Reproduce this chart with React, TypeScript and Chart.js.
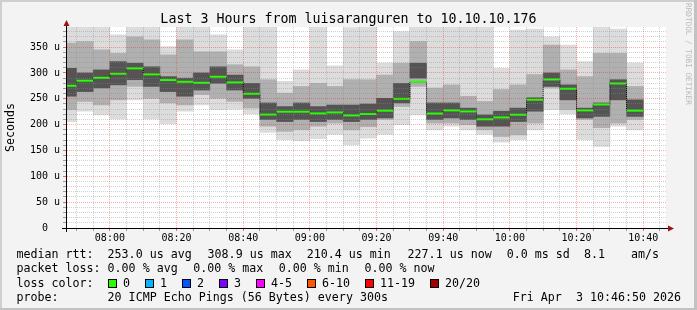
import React, { useEffect, useRef } from "react";
import { Chart, registerables } from "chart.js";

Chart.register(...registerables);

// ---- data (microseconds) ----
const binEnds = [
  "07:50", "07:55", "08:00", "08:05", "08:10", "08:15", "08:20", "08:25", "08:30", "08:35",
  "08:40", "08:45", "08:50", "08:55", "09:00", "09:05", "09:10", "09:15", "09:20", "09:25",
  "09:30", "09:35", "09:40", "09:45", "09:50", "09:55", "10:00", "10:05", "10:10", "10:15",
  "10:20", "10:25", "10:30", "10:35", "10:40",
];
const medianUs = [
  275.2, 285, 290.7, 298.5, 308.9, 297.3, 286.3, 283, 281, 292.7,
  281.8, 259.8, 219.5, 225, 225, 221.8, 223.7, 217.9, 220.5, 227,
  250, 283, 221.5, 227.6, 225.6, 210.4, 214, 219.2, 248.2, 287.4,
  269.5, 227.6, 239.1, 279.7, 227.1,
];
const smokeMin = [
  206, 226, 219, 211, 248, 211, 202, 226, 238, 229,
  230, 221, 185, 171, 169, 173, 181, 161, 174, 181,
  200, 219, 190, 197, 190, 181, 166, 171, 190, 229,
  221, 171, 158, 197, 190,
];
const smokeMax = [
  395, 395, 395, 374, 392, 395, 351, 392, 392, 374,
  345, 392, 392, 284, 306, 392, 314, 388, 392, 319,
  380, 392, 392, 392, 392, 392, 309, 383, 385, 370,
  354, 322, 392, 385, 319,
];
const bandLo = [
  229, 245, 238, 248, 274, 251, 242, 238, 258, 251,
  245, 232, 197, 187, 190, 197, 203, 190, 196, 210,
  235, 274, 203, 203, 200, 190, 177, 180, 203, 271,
  229, 210, 194, 203, 210,
];
const bandHi = [
  358, 361, 345, 338, 370, 364, 335, 364, 341, 341,
  316, 312, 287, 261, 274, 280, 274, 287, 287, 296,
  319, 361, 271, 277, 255, 245, 268, 277, 297, 354,
  306, 293, 338, 338, 274,
];
const coreLo = [
  255, 264, 271, 277, 287, 274, 264, 255, 267, 280,
  267, 251, 210, 206, 210, 206, 210, 206, 210, 213,
  242, 290, 210, 213, 210, 197, 197, 206, 226, 274,
  248, 213, 216, 248, 216,
];
const coreHi = [
  309, 300, 306, 322, 319, 312, 293, 290, 300, 312,
  296, 280, 242, 235, 242, 235, 238, 238, 240, 251,
  280, 319, 242, 242, 232, 219, 226, 232, 252, 300,
  277, 232, 242, 287, 248,
];

const rangeStart = "07:46:50";
const rangeEnd = "10:46:50";
const binMinutes = 5;
const yMax = 389;

const xTickLabels = ["08:00", "08:20", "08:40", "09:00", "09:20", "09:40", "10:00", "10:20", "10:40"];
const yTickValues = [0, 50, 100, 150, 200, 250, 300, 350];
const yTickText = ["0  ", "50 u", "100 u", "150 u", "200 u", "250 u", "300 u", "350 u"];

const lossLabels = ["0", "1", "2", "3", "4-5", "6-10", "11-19", "20/20"];
const lossColors = ["#26ff00", "#00b8ff", "#0059ff", "#7e00ff", "#ff00ff", "#ff5500", "#ff0000", "#a10000"];

const titleText = "Last 3 Hours from luisaranguren to 10.10.10.176";
const rttLine = [
  ["median rtt:", 16.4], ["253.0 us avg", 107.6], ["308.9 us max", 207.6], ["210.4 us min", 306.7],
  ["227.1 us now", 407.6], ["0.0 ms sd", 506.7], ["8.1", 584], ["am/s", 631],
] as [string, number][];
const lossLine = [
  ["packet loss:", 16.4], ["0.00 % avg", 107.6], ["0.00 % max", 193.3], ["0.00 % min", 278.7], ["0.00 % now", 364.4],
] as [string, number][];
const probeText = "20 ICMP Echo Pings (56 Bytes) every 300s";
const stampText = "Fri Apr  3 10:46:50 2026";

const W = 697;
const H = 310;
const MONO = '"DejaVu Sans Mono", monospace';

function toMin(s: string): number {
  const p = s.split(":").map(Number);
  return p[0] * 60 + p[1] + (p[2] || 0) / 60;
}

const decor = {
  id: "decor",
  beforeDraw(chart: any) {
    const { ctx, chartArea: a } = chart;
    ctx.save();
    ctx.fillStyle = "#f3f3f3";
    ctx.fillRect(0, 0, W, H);
    ctx.fillStyle = "#ffffff";
    ctx.fillRect(a.left, a.top, a.right - a.left, a.bottom - a.top);
    ctx.restore();
  },
  afterDraw(chart: any) {
    const { ctx, chartArea: a } = chart;
    ctx.save();
    // axes
    ctx.strokeStyle = "#000";
    ctx.lineWidth = 1;
    ctx.beginPath();
    ctx.moveTo(a.left + 0.5, a.bottom + 4);
    ctx.lineTo(a.left + 0.5, a.top - 4);
    ctx.moveTo(a.left - 4, a.bottom + 0.5);
    ctx.lineTo(a.right + 4, a.bottom + 0.5);
    ctx.stroke();
    // arrows
    ctx.fillStyle = "#9b1414";
    ctx.beginPath();
    ctx.moveTo(a.left + 0.5, a.top - 7);
    ctx.lineTo(a.left - 2.5, a.top - 1);
    ctx.lineTo(a.left + 3.5, a.top - 1);
    ctx.closePath();
    ctx.fill();
    ctx.beginPath();
    ctx.moveTo(a.right + 8, a.bottom + 0.5);
    ctx.lineTo(a.right + 2, a.bottom - 2.5);
    ctx.lineTo(a.right + 2, a.bottom + 3.5);
    ctx.closePath();
    ctx.fill();

    // title
    ctx.fillStyle = "#000";
    ctx.textBaseline = "middle";
    ctx.textAlign = "center";
    ctx.font = `13.3px ${MONO}`;
    ctx.fillText(titleText, W / 2, 19.5);

    // vertical axis title
    ctx.save();
    ctx.translate(10.5, (a.top + a.bottom) / 2);
    ctx.rotate(-Math.PI / 2);
    ctx.font = `11.65px ${MONO}`;
    ctx.fillText("Seconds", 0, 0);
    ctx.restore();

    // legend
    ctx.font = `11.65px ${MONO}`;
    ctx.textAlign = "left";
    for (const [t, x] of rttLine) ctx.fillText(t, x, 254.5);
    for (const [t, x] of lossLine) ctx.fillText(t, x, 269);
    ctx.fillText("loss color:", 16.4, 283.5);
    let sx = 108;
    lossLabels.forEach((lab, i) => {
      ctx.fillStyle = lossColors[i];
      ctx.fillRect(sx, 279, 8, 8);
      ctx.strokeStyle = "#000";
      ctx.strokeRect(sx + 0.5, 279.5, 8, 8);
      ctx.fillStyle = "#000";
      ctx.fillText(lab, sx + 15, 283.5);
      sx += 7 * lab.length + 30;
    });
    ctx.fillText("probe:", 16.4, 298);
    ctx.fillText(probeText, 107.6, 298);
    ctx.textAlign = "right";
    ctx.fillText(stampText, 681, 298);

    // watermark
    ctx.save();
    ctx.translate(687.5, 3);
    ctx.rotate(Math.PI / 2);
    ctx.textAlign = "left";
    ctx.fillStyle = "#b8b8b8";
    ctx.font = `7.7px ${MONO}`;
    ctx.fillText("RRDTOOL / TOBI OETIKER", 0, 0);
    ctx.restore();

    // frame
    ctx.fillStyle = "#cfcfcf";
    ctx.fillRect(0, 0, W, 2);
    ctx.fillRect(0, 0, 2, H);
    ctx.fillStyle = "#c2c2c2";
    ctx.fillRect(0, H - 2, W, 2);
    ctx.fillRect(W - 3, 0, 3, H);
    ctx.restore();
  },
};

export default function App() {
  const ref = useRef<HTMLCanvasElement>(null);

  useEffect(() => {
    document.body.style.margin = "0";
    const canvas = ref.current;
    if (!canvas) return;
    const xMin = toMin(rangeStart);
    const xMax = toMin(rangeEnd);
    const xs = binEnds.map((t) => toMin(t) - binMinutes / 2);
    const band = (lo: number[], hi: number[]) => xs.map((x, i) => ({ x, y: [lo[i], hi[i]] }));
    const med = xs.map((x, i) => ({ x, y: medianUs[i] }));
    const halfBar = (c: any) => {
      const s = c.chart.scales.x;
      return s ? Math.abs(s.getPixelForValue(binMinutes) - s.getPixelForValue(0)) / 2 : 8;
    };
    const labelFor = (v: number) => {
      const hit = xTickLabels.find((l) => Math.abs(toMin(l) - v) < 1e-6);
      return hit || "";
    };
    const minorGrid = "rgba(140,140,140,0.4)";
    const majorGrid = "rgba(255,0,0,0.32)";

    const barCommon = { grouped: false, barPercentage: 1, categoryPercentage: 1, borderWidth: 0, clip: 0 };

    const chart = new Chart(canvas, {
      type: "bar",
      data: {
        datasets: [
          { ...barCommon, type: "bar", data: band(smokeMin, smokeMax), backgroundColor: "#dcdcdc", order: 6 },
          { ...barCommon, type: "bar", data: band(bandLo, bandHi), backgroundColor: "#b0b0b0", order: 5 },
          { ...barCommon, type: "bar", data: band(coreLo, coreHi), backgroundColor: "#545454", order: 4 },
          {
            type: "line", data: med, stepped: "middle", borderColor: "#000", borderWidth: 1,
            borderDash: [1, 1], pointRadius: 0, order: 2, clip: 0,
          },
          {
            type: "line", data: med, showLine: false, pointStyle: "line", pointRadius: halfBar,
            pointBorderColor: lossColors[0], pointBackgroundColor: lossColors[0], pointBorderWidth: 2,
            order: 1, clip: 0,
          },
        ] as any,
      },
      options: {
        responsive: false,
        animation: false,
        devicePixelRatio: 1,
        events: [],
        layout: { padding: { left: 0, top: 27, right: 31, bottom: 0 } },
        plugins: { legend: { display: false }, tooltip: { enabled: false }, title: { display: false } },
        scales: {
          x: {
            type: "linear",
            min: xMin,
            max: xMax,
            offset: false,
            afterFit: (s: any) => { s.height = 82; },
            afterBuildTicks: (s: any) => {
              const t: { value: number }[] = [];
              for (let v = Math.ceil(xMin / binMinutes) * binMinutes; v <= xMax; v += binMinutes) t.push({ value: v });
              s.ticks = t;
            },
            grid: {
              offset: false,
              z: 1,
              color: (c: any) => (c.tick && Math.round(c.tick.value) % 20 === 0 ? majorGrid : minorGrid),
              tickColor: (c: any) => (c.tick && Math.round(c.tick.value) % 20 === 0 ? "rgba(255,0,0,0.6)" : "rgba(120,120,120,0.7)"),
              drawTicks: true,
              tickLength: 3,
            },
            border: { display: true, color: "#000", width: 1, dash: [1, 1], z: 2 },
            ticks: {
              autoSkip: false,
              maxRotation: 0,
              minRotation: 0,
              padding: 1,
              color: "#000",
              font: { family: "DejaVu Sans Mono", size: 10 },
              callback: (v: any) => labelFor(Number(v)),
            },
          },
          y: {
            type: "linear",
            min: 0,
            max: yMax,
            afterFit: (s: any) => { s.width = 66; },
            afterBuildTicks: (s: any) => {
              const t: { value: number }[] = [];
              for (let v = 0; v <= yMax; v += 10) t.push({ value: v });
              s.ticks = t;
            },
            grid: {
              z: 1,
              color: (c: any) => (c.tick && c.tick.value % 50 === 0 ? majorGrid : minorGrid),
              tickColor: (c: any) => (c.tick && c.tick.value % 50 === 0 ? "rgba(255,0,0,0.6)" : "rgba(120,120,120,0.7)"),
              drawTicks: true,
              tickLength: 3,
            },
            border: { display: true, color: "#000", width: 1, dash: [1, 1], z: 2 },
            ticks: {
              autoSkip: false,
              padding: 3,
              color: "#000",
              font: { family: "DejaVu Sans Mono", size: 10 },
              callback: (v: any) => {
                const i = yTickValues.indexOf(Number(v));
                return i >= 0 ? yTickText[i] : "";
              },
            },
          },
        },
      } as any,
      plugins: [decor],
    });
    return () => chart.destroy();
  }, []);

  return <canvas ref={ref} width={W} height={H} style={{ display: "block" }} />;
}
